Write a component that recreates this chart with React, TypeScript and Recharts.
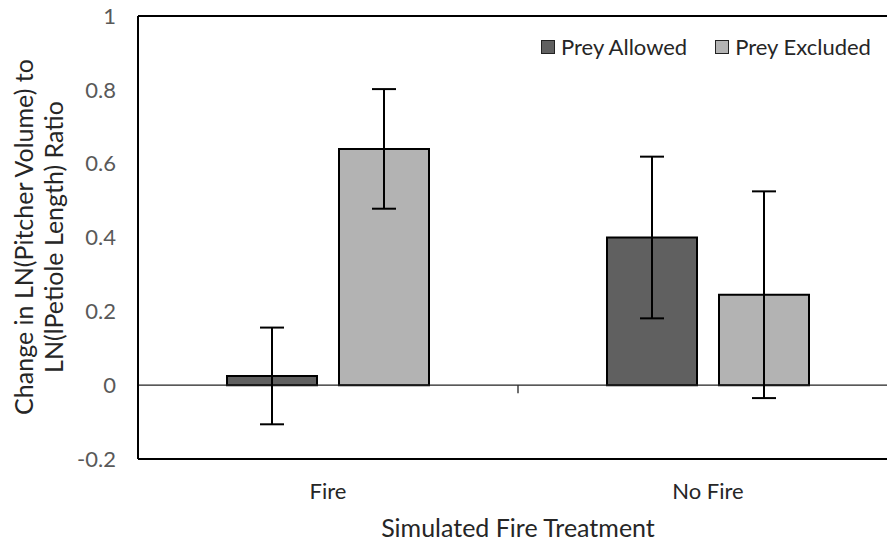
import React from 'react';
import { BarChart, Bar, XAxis, YAxis, ErrorBar, ReferenceLine, Legend } from 'recharts';

const categories = ['Fire', 'No Fire'];
const preyAllowed = [0.025, 0.40];
const preyExcluded = [0.64, 0.245];
const preyAllowedErr = [0.131, 0.219];
const preyExcludedErr = [0.162, 0.28];
const yTicks = [-0.2, 0, 0.2, 0.4, 0.6, 0.8, 1];

const data = categories.map((c, i) => ({
  category: c,
  allowed: preyAllowed[i],
  excluded: preyExcluded[i],
  allowedErr: preyAllowedErr[i],
  excludedErr: preyExcludedErr[i],
}));

const FONT = 'Lato, "Open Sans", sans-serif';
const FS = 22;
const TFS = 25;

const ZeroTick = (props: any) => {
  const vb = props.viewBox || {};
  const x = (vb.x ?? 0) + (vb.width ?? 0) / 2;
  const y = vb.y ?? 0;
  return <line x1={x} y1={y} x2={x} y2={y + 8} stroke="#222" strokeWidth={1.3} />;
};

const LegendContent = (props: any) => {
  const payload = props.payload || [];
  return (
    <div style={{ display: 'flex', alignItems: 'center', fontFamily: FONT, fontSize: FS, color: '#262626', lineHeight: '26px' }}>
      {payload.map((p: any, i: number) => (
        <div key={i} style={{ display: 'flex', alignItems: 'center', marginRight: i === 0 ? 28 : 0 }}>
          <div style={{ width: 12, height: 12, background: p.color, border: '1.5px solid #222', marginRight: 6 }} />
          <span>{p.value}</span>
        </div>
      ))}
    </div>
  );
};

export default function App() {
  return (
    <div style={{ position: 'absolute', left: 0, top: 0, width: 887, height: 541, overflow: 'hidden', background: '#fff' }}>
      <BarChart width={900} height={541} data={data} margin={{ top: 16, right: 2, bottom: 0, left: 0 }} barGap={22} barSize={90}>
        <XAxis
          dataKey="category"
          height={82}
          axisLine={{ stroke: '#000', strokeWidth: 2 }}
          tickLine={false}
          tickSize={0}
          tickMargin={24}
          tick={{ fill: '#262626', fontSize: FS, fontFamily: FONT }}
          label={{ value: 'Simulated Fire Treatment', position: 'insideBottom', offset: 4, fill: '#262626', fontSize: TFS, fontFamily: FONT }}
        />
        <YAxis
          width={138}
          domain={[-0.2, 1]}
          ticks={yTicks}
          interval={0}
          axisLine={{ stroke: '#000', strokeWidth: 2 }}
          tickLine={false}
          tickSize={0}
          tickMargin={22}
          tick={{ fill: '#595959', fontSize: FS, fontFamily: FONT }}
          label={{
            content: () => (
              <g fill="#262626" fontSize={TFS} fontFamily={FONT}>
                <text x={23} y={237} transform="rotate(-90 23 237)" textAnchor="middle" dominantBaseline="central">
                  Change in LN(Pitcher Volume) to
                </text>
                <text x={53} y={237} transform="rotate(-90 53 237)" textAnchor="middle" dominantBaseline="central">
                  LN(lPetiole Length) Ratio
                </text>
              </g>
            ),
          }}
        />
        <ReferenceLine y={1} stroke="#000" strokeWidth={2} />
        <ReferenceLine y={0} stroke="#222" strokeWidth={1.3} label={<ZeroTick />} />
        <Legend
          layout="horizontal"
          verticalAlign="middle"
          align="center"
          content={<LegendContent />}
          wrapperStyle={{ position: 'absolute', top: 34, left: 541, width: 345 }}
        />
        <Bar dataKey="allowed" name="Prey Allowed" fill="#606060" stroke="#000" strokeWidth={2} isAnimationActive={false}>
          <ErrorBar dataKey="allowedErr" width={12} stroke="#000" strokeWidth={2} isAnimationActive={false} />
        </Bar>
        <Bar dataKey="excluded" name="Prey Excluded" fill="#b3b3b3" stroke="#000" strokeWidth={2} isAnimationActive={false}>
          <ErrorBar dataKey="excludedErr" width={12} stroke="#000" strokeWidth={2} isAnimationActive={false} />
        </Bar>
      </BarChart>
    </div>
  );
}
